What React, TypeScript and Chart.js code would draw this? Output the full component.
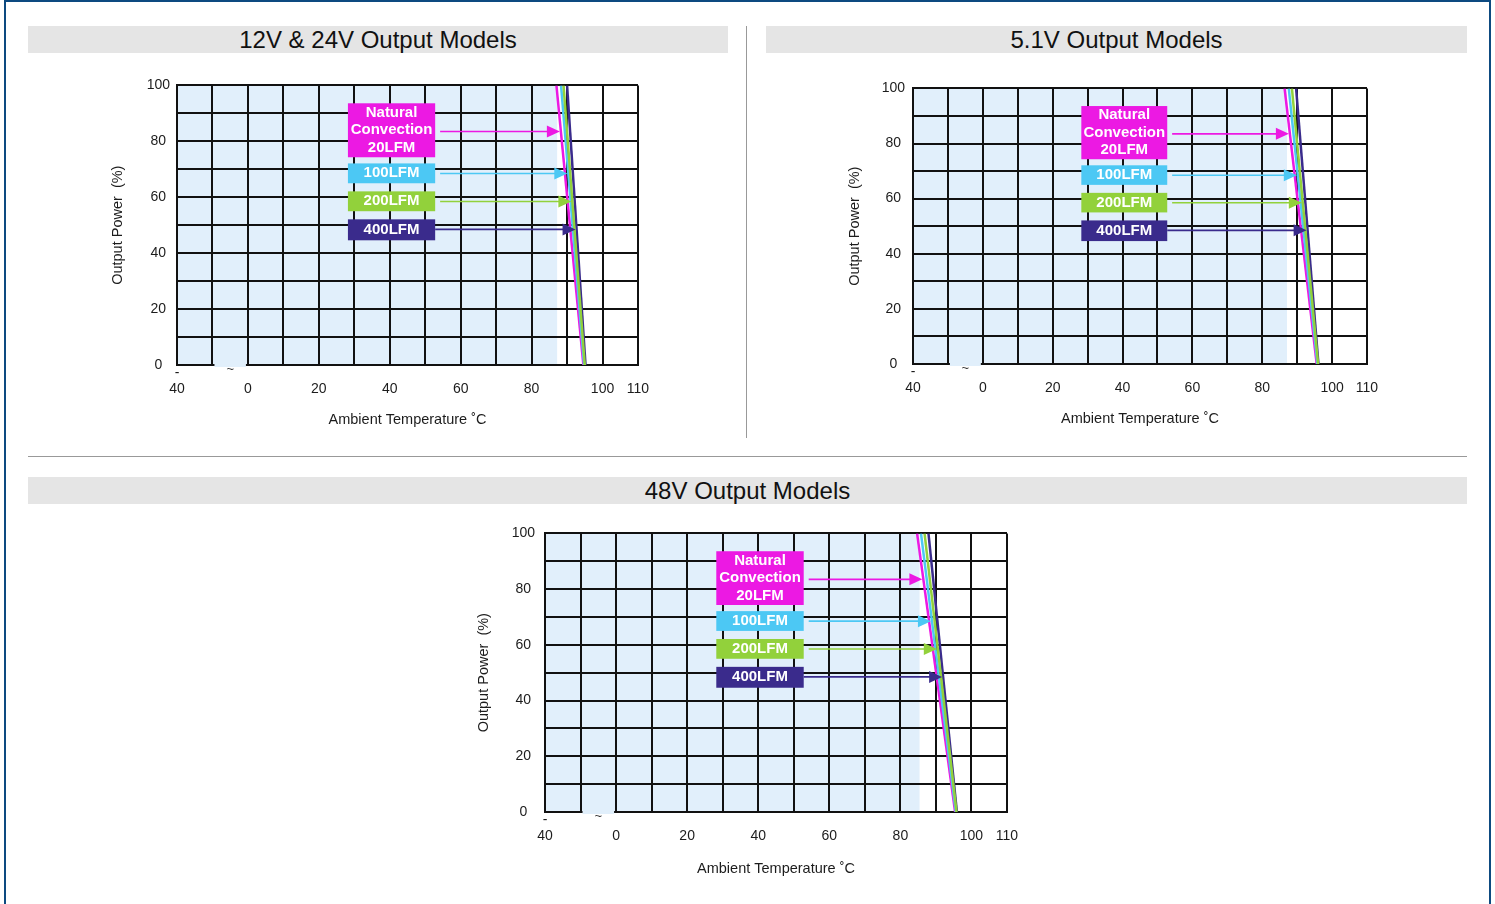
import React, { useEffect, useRef } from "react";
import { Chart, registerables } from "chart.js";

Chart.register(...registerables);

const FONT = "'Liberation Sans', Arial, Helvetica, sans-serif";

// ---------------- data ----------------
const SERIES_NAMES = ["Natural Convection 20LFM", "100LFM", "200LFM", "400LFM"];
const BOX_TEXT = [["Natural", "Convection", "20LFM"], ["100LFM"], ["200LFM"], ["400LFM"]];
const CHART_TITLES = ["12V & 24V Output Models", "5.1V Output Models", "48V Output Models"];

const X_GRID_VALUES = [-20, -10, 0, 10, 20, 30, 40, 50, 60, 70, 80, 90, 100, 110];
const X_TICK_VALUES = [-20, 0, 20, 40, 60, 80, 100, 110];
const X_TICK_LABELS = [["-", "40"], ["", "0"], ["", "20"], ["", "40"], ["", "60"], ["", "80"], ["", "100"], ["", "110"]];
const Y_TICK_VALUES = [0, 20, 40, 60, 80, 100];
const Y_TICK_LABELS = ["0", "20", "40", "60", "80", "100"];
const X_TITLE = "Ambient Temperature \u02DAC";
const Y_TITLE = "Output Power  (%)";

// temperature (°C) at which each curve leaves 100 % and where it reaches 0 %
const T100_12V = [87.0, 88.3, 89.0, 90.0];
const T0_12V = [94.6, 94.8, 95.0, 95.2];
const T100_5V = [86.4, 87.6, 88.5, 89.7];
const T0_5V = [95.6, 95.8, 96.0, 96.1];
const T100_48V = [84.7, 85.8, 86.8, 87.9];
const T0_48V = [95.4, 95.6, 95.8, 95.9];
const SHADE_END = [87.2, 87.1, 85.4];
const ARROW_POWER = [83.5, 68.5, 58.5, 48.5];

// ---------------- styling / layout ----------------
const SERIES_COLORS = ["#ec19e3", "#4cc8f4", "#92d13b", "#3a2b8c"];
const SERIES_ORDER = [2, 1, 0, 3];
const SHADE = "#e1effb";
const GRID = "#111111";
const TEXT = "#1c1c1c";

const BOX_X = [28.2, 52.8];
const BOX_Y = [
  [93.6, 74.3],
  [72.1, 65.0],
  [62.1, 55.0],
  [52.1, 44.6],
];
const ARROW_START = [54.2, 54.2, 54.2, 52.8];

const PANELS = [
  { canvas: { left: 109, top: 70, width: 551, height: 359 }, grid: { left: 177, right: 638, top: 85, bottom: 365 }, yPad: 7, t100: T100_12V, t0: T0_12V },
  { canvas: { left: 846, top: 72, width: 544, height: 356 }, grid: { left: 913, right: 1367, top: 87, bottom: 364 }, yPad: 8, t100: T100_5V, t0: T0_5V },
  { canvas: { left: 475, top: 515, width: 555, height: 363 }, grid: { left: 545, right: 1007, top: 530, bottom: 812 }, yPad: 10, t100: T100_48V, t0: T0_48V },
];

function makeDecor(idx: number) {
  const p = PANELS[idx];
  return {
    id: "decor" + idx,
    beforeDraw(chart: any) {
      const { ctx, chartArea: a, scales } = chart;
      const xe = scales.x.getPixelForValue(SHADE_END[idx]);
      ctx.save();
      ctx.fillStyle = SHADE;
      ctx.fillRect(a.left, a.top, xe - a.left, a.bottom - a.top);
      ctx.restore();
    },
    afterDatasetsDraw(chart: any) {
      const { ctx, scales } = chart;
      const x = scales.x;
      const y = scales.y;
      ctx.save();
      for (let i = 0; i < SERIES_NAMES.length; i++) {
        const color = SERIES_COLORS[i];
        const x0 = x.getPixelForValue(BOX_X[0]);
        const x1 = x.getPixelForValue(BOX_X[1]);
        const y0 = y.getPixelForValue(BOX_Y[i][0]);
        const y1 = y.getPixelForValue(BOX_Y[i][1]);
        ctx.fillStyle = color;
        ctx.fillRect(x0, y0, x1 - x0, y1 - y0);
        ctx.fillStyle = "#ffffff";
        ctx.font = "bold 15px " + FONT;
        ctx.textAlign = "center";
        ctx.textBaseline = "middle";
        const lines = BOX_TEXT[i];
        const lh = 17.5;
        const cy = (y0 + y1) / 2;
        lines.forEach((t, k) => {
          ctx.fillText(t, (x0 + x1) / 2, cy + (k - (lines.length - 1) / 2) * lh);
        });
        // arrow
        const pw = ARROW_POWER[i];
        const tAt = p.t100[i] + (p.t0[i] - p.t100[i]) * (100 - pw) / 100;
        const ax0 = x.getPixelForValue(ARROW_START[i]);
        const ax1 = x.getPixelForValue(tAt) - 1;
        const ay = y.getPixelForValue(pw);
        ctx.strokeStyle = color;
        ctx.lineWidth = 1.6;
        ctx.beginPath();
        ctx.moveTo(ax0, ay);
        ctx.lineTo(ax1 - 10, ay);
        ctx.stroke();
        ctx.fillStyle = color;
        ctx.beginPath();
        ctx.moveTo(ax1, ay);
        ctx.lineTo(ax1 - 13, ay - 6);
        ctx.lineTo(ax1 - 13, ay + 6);
        ctx.closePath();
        ctx.fill();
      }
      ctx.restore();
    },
    afterDraw(chart: any) {
      const { ctx, chartArea: a, scales } = chart;
      const xa = scales.x.getPixelForValue(-10);
      const xb = scales.x.getPixelForValue(0);
      ctx.save();
      ctx.fillStyle = SHADE;
      ctx.fillRect(xa + 2, a.bottom - 2, xb - xa - 4, 4);
      ctx.fillStyle = "#333";
      ctx.font = "13px " + FONT;
      ctx.textAlign = "center";
      ctx.textBaseline = "middle";
      ctx.fillText("~", (xa + xb) / 2, a.bottom + 4);
      ctx.restore();
    },
  };
}

function Panel({ idx }: { idx: number }) {
  const ref = useRef<HTMLCanvasElement>(null);
  const p = PANELS[idx];
  useEffect(() => {
    const c = p.canvas;
    const g = p.grid;
    const yWidth = g.left - c.left;
    const xHeight = c.top + c.height - g.bottom;
    const padRight = c.left + c.width - g.right;
    const padTop = g.top - c.top;
    const chart = new Chart(ref.current as HTMLCanvasElement, {
      type: "line",
      data: {
        datasets: SERIES_NAMES.map((name, i) => ({
          label: name,
          data: [
            { x: p.t100[i], y: 100 },
            { x: p.t0[i], y: 0 },
          ],
          borderColor: SERIES_COLORS[i],
          backgroundColor: SERIES_COLORS[i],
          borderWidth: 2.5,
          pointRadius: 0,
          fill: false,
          tension: 0,
          order: SERIES_ORDER[i],
        })),
      },
      options: {
        animation: false,
        responsive: false,
        devicePixelRatio: 1,
        layout: { padding: { left: 0, right: padRight, top: padTop, bottom: 0 } },
        plugins: { legend: { display: false }, tooltip: { enabled: false }, title: { display: false } },
        scales: {
          x: {
            type: "linear",
            min: -20,
            max: 110,
            afterBuildTicks: (s: any) => {
              s.ticks = X_GRID_VALUES.map((v) => ({ value: v }));
            },
            afterFit: (s: any) => {
              s.height = xHeight;
            },
            grid: { color: GRID, lineWidth: 2, drawTicks: false },
            border: { display: true, color: GRID, width: 2 },
            ticks: {
              autoSkip: false,
              maxRotation: 0,
              minRotation: 0,
              padding: 0,
              color: TEXT,
              font: { family: FONT, size: 14, lineHeight: "16px" },
              callback: (v: any) => {
                const k = X_TICK_VALUES.indexOf(Number(v));
                return k >= 0 ? X_TICK_LABELS[k] : "";
              },
            },
            title: { display: true, text: X_TITLE, color: TEXT, padding: 0, font: { family: FONT, size: 14.5, lineHeight: 1.2 } },
          },
          y: {
            type: "linear",
            min: 0,
            max: 100,
            afterFit: (s: any) => {
              s.width = yWidth;
            },
            grid: { color: GRID, lineWidth: 2, drawTicks: false },
            border: { display: true, color: GRID, width: 2 },
            ticks: {
              stepSize: 10,
              autoSkip: false,
              crossAlign: "center",
              padding: p.yPad,
              color: TEXT,
              font: { family: FONT, size: 14 },
              callback: (v: any) => {
                const k = Y_TICK_VALUES.indexOf(Number(v));
                return k >= 0 ? Y_TICK_LABELS[k] : "";
              },
            },
            title: { display: true, text: Y_TITLE, color: TEXT, padding: 0, font: { family: FONT, size: 14.5, lineHeight: 1.2 } },
          },
        },
      },
      plugins: [makeDecor(idx)],
    } as any);
    return () => chart.destroy();
  }, []);
  return (
    <canvas
      ref={ref}
      width={p.canvas.width}
      height={p.canvas.height}
      style={{ position: "absolute", left: p.canvas.left, top: p.canvas.top, width: p.canvas.width, height: p.canvas.height }}
    />
  );
}

const bandStyle = (left: number, top: number, width: number): React.CSSProperties => ({
  position: "absolute",
  left,
  top,
  width,
  height: 27,
  background: "#e5e5e5",
  color: "#111",
  fontFamily: FONT,
  fontSize: 24,
  lineHeight: "28px",
  textAlign: "center",
  whiteSpace: "nowrap",
});

export default function App() {
  return (
    <div style={{ position: "absolute", left: 0, top: 0, width: 1495, height: 904, overflow: "hidden", background: "#fff" }}>
      <div style={{ position: "absolute", left: 4, top: 0, width: 1487, height: 1000, border: "2px solid #0d4a80", boxSizing: "border-box" }} />
      <div style={bandStyle(28, 26, 700)}>{CHART_TITLES[0]}</div>
      <div style={bandStyle(766, 26, 701)}>{CHART_TITLES[1]}</div>
      <div style={bandStyle(28, 477, 1439)}>{CHART_TITLES[2]}</div>
      <div style={{ position: "absolute", left: 746, top: 26, width: 1, height: 412, background: "#999" }} />
      <div style={{ position: "absolute", left: 28, top: 456, width: 1439, height: 1, background: "#999" }} />
      <Panel idx={0} />
      <Panel idx={1} />
      <Panel idx={2} />
    </div>
  );
}
